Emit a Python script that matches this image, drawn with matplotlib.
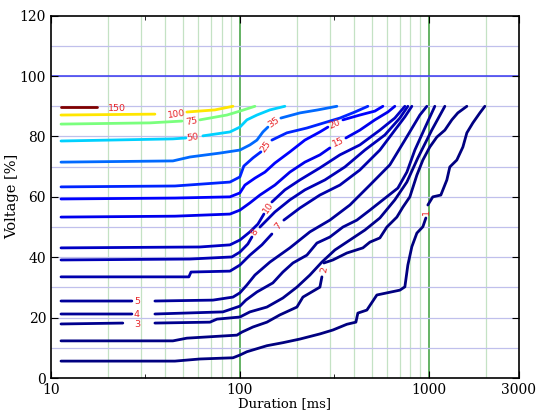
import numpy as np
import matplotlib
matplotlib.use("Agg")
import matplotlib.pyplot as plt
from matplotlib import colors

nan = np.nan

# contour levels (number of events)
levels = [1, 2, 3, 4, 5, 7, 8, 10, 15, 20, 25, 35, 50, 75, 100, 150]

# traced contour lines: duration [ms] and voltage [%]; nan = gap where the label sits
d_150 = [11.3, 17.5]
v_150 = [89.8, 89.8]
d_100 = [11.3, 35.5, nan, 52.4, 73.8, 91.9]
v_100 = [87.1, 87.4, nan, 88.1, 88.8, 90.0]
d_75 = [11.3, 33.4, 49.3, nan, 61.4, 85.4, 100, 120.1]
v_75 = [84.1, 84.5, 85.1, nan, 85.5, 87.1, 88.4, 90.0]
d_50 = [11.3, 44.2, 51.8, nan, 63.7, 88.6, 100, 108.9, 123.1, 144.2, 173]
v_50 = [78.5, 79.2, 79.5, nan, 80.2, 81.5, 83.1, 85.5, 87.1, 88.8, 90.0]
d_35 = [11.3, 44.2, 54.4, 78.4, 100, 113, 123.1, 132.4, 140.7, nan, 164.8, 207.8, 258.7, 326.1]
v_35 = [71.5, 71.9, 73.2, 74.5, 75.5, 77.2, 78.8, 81.5, 83.1, nan, 86.1, 87.8, 88.8, 90.0]
d_25 = [11.3, 45.3, 88.6, 100, 104.9, 117.3, 129.2, nan, 147.7, 177.3, 226.3, 265.2, 338.3, 406.1, 475.7]
v_25 = [63.3, 63.6, 64.9, 66.6, 70.2, 72.9, 74.9, nan, 78.8, 81.2, 82.8, 84.1, 86.1, 88.1, 90.0]
d_20 = [11.3, 45.3, 88.6, 100, 106.3, 120.1, 135.7, 153.2, 183.9, 220.8, 265.2, 292.3, nan,
        351, 431.6, 518.2, 571.4]
v_20 = [59.3, 59.6, 60.0, 61.3, 63.9, 66.2, 68.2, 71.2, 74.9, 78.8, 81.5, 83.1, nan,
        85.5, 87.1, 88.4, 90.0]
d_15 = [11.3, 45.3, 88.6, 100, 113, 127.7, 153.2, 183.9, 220.8, 265.2, 299.5, nan,
        364, 431.6, 518.2, 607, 661]
v_15 = [53.3, 53.6, 54.3, 55.6, 58.0, 60.6, 63.9, 68.2, 71.5, 73.9, 76.2, nan,
        79.5, 82.1, 85.5, 88.1, 90.0]
d_10 = [11.3, 61.4, 88.6, 100, 113, 124.6, 134, nan, 147.7, 173, 207.8, 265.2, 338.3,
        431.6, 550.8, 661, 747]
v_10 = [43.1, 43.4, 44.1, 45.7, 48.4, 51.0, 54.3, nan, 58.3, 62.3, 65.6, 69.6, 73.9,
        77.2, 82.1, 86.1, 90.0]
d_8 = [11.3, 54.4, 90.7, 100, 110.2, 115.8, nan, 127.7, 153.2, 183.9, 220.8, 281.8, 359.5,
       458.8, 585.4, 702.8, 774.6]
v_8 = [39.1, 39.4, 40.1, 41.7, 44.4, 46.7, nan, 50.0, 55.0, 59.0, 62.3, 65.6, 69.9,
       75.5, 80.5, 86.1, 90.0]
d_7 = [11.3, 53.7, 55.1, 88.6, 100, 113, 130.8, 147.7, nan, 170.9, 207.8, 265.2, 338.3,
       431.6, 550.8, 661, 747, 813.3]
v_7 = [33.5, 33.5, 35.1, 35.4, 37.4, 40.7, 44.1, 47.7, nan, 52.3, 56.3, 60.6, 63.9,
       68.9, 75.5, 82.1, 86.5, 90.0]
d_5 = [11.3, 26.8, nan, 35.5, 72, 91.9, 100, 108.9, 120.1, 144.2, 183.9, 234.7, 299.5,
       382.2, 487.6, 622.1, 747, 896.7, 976.6]
v_5 = [25.5, 25.5, nan, 25.5, 25.8, 26.8, 28.2, 30.8, 34.1, 38.4, 43.1, 48.4, 52.3,
       57.3, 63.9, 70.6, 78.8, 87.1, 90.0]
d_4 = [11.3, 26.8, nan, 35.5, 81.3, 90.7, 100, 107.6, 123.1, 149.5, 168.9, 190.9, 226.3,
       255.7, 299.5, 351, 416.2, 487.6, 571.4, 685.7, 765.4, 843.7, 953, 1076]
v_4 = [21.2, 21.2, nan, 21.2, 21.9, 22.9, 23.8, 25.8, 28.5, 31.5, 35.1, 38.1, 40.7,
       44.7, 46.7, 50.0, 52.3, 55.6, 59.0, 62.9, 68.2, 75.5, 82.8, 90.0]
d_3 = [11.3, 24.0, nan, 35.5, 69.4, 75.6, 100, 113, 139, 168.9, 200.4, 234.7, 271.7,
       318.3, 382.2, 458.8, 550.8, 661, 765.4, 875, 1037, 1216]
v_3 = [17.9, 18.2, nan, 18.2, 18.5, 19.5, 20.2, 21.9, 23.5, 26.5, 30.1, 34.1, 38.4,
       42.4, 45.7, 49.0, 53.0, 59.0, 64.9, 72.9, 82.1, 90.0]
d_2 = [11.3, 44.2, 52.4, 96.5, 102.4, 117.3, 139.0, 162.8, 200.4, 215.6, 265.2, 271.7, nan,
       278.3, 310.7, 368.4, 447.8, 487.6, 550.8, 599.9, 677.6, 729.1, 793.8, 864.6, 930.3,
       1012, 1103, 1216, 1324, 1424, 1590]
v_2 = [12.3, 12.3, 13.2, 14.2, 15.2, 16.9, 18.5, 20.9, 23.5, 26.8, 30.1, 33.5, nan,
       38.1, 39.1, 41.4, 43.1, 45.0, 46.4, 50.0, 53.3, 56.6, 60.0, 67.2, 72.2,
       76.5, 79.8, 82.1, 85.5, 87.8, 90.0]
d_1 = [11.3, 45.3, 61.4, 91.9, 100, 108.9, 139, 168.9, 207.8, 265.2, 310.7, 368.4, 411.2,
       421.2, 470.1, 531, 702.8, 747, 774.6, 813.3, 864.6, 930.3, 964.8, nan, 988.4, 1050,
       1158, 1246, 1292, 1407, 1515, 1590, 1711, 1863, 1980]
v_1 = [5.6, 5.6, 6.3, 6.7, 7.6, 8.7, 10.7, 11.7, 12.9, 14.6, 15.9, 17.8, 18.5,
       21.5, 22.5, 27.5, 29.1, 30.2, 37.4, 43.5, 48.0, 50.1, 53.0, nan, 57.3, 60.0,
       60.6, 65.6, 69.9, 72.2, 76.5, 81.2, 84.5, 87.8, 90.0]

curves = {1: (d_1, v_1), 2: (d_2, v_2), 3: (d_3, v_3), 4: (d_4, v_4), 5: (d_5, v_5),
          7: (d_7, v_7), 8: (d_8, v_8), 10: (d_10, v_10), 15: (d_15, v_15),
          20: (d_20, v_20), 25: (d_25, v_25), 35: (d_35, v_35), 50: (d_50, v_50),
          75: (d_75, v_75), 100: (d_100, v_100), 150: (d_150, v_150)}

# inline label positions: level -> (duration, voltage, rotation)
label_pos = {150: (22.3, 89.4, 0), 100: (45.9, 87.4, 8), 75: (55.7, 85.1, 10),
             50: (56.4, 79.5, 10), 35: (151.3, 84.5, 35), 25: (137.3, 76.5, 55),
             20: (318.3, 84.1, 25), 15: (330, 78.2, 25), 10: (140.7, 56.3, 55),
             8: (120.1, 48.4, 60), 7: (158.9, 50.3, 50), 5: (28.5, 25.5, 0),
             4: (28.5, 21.2, 0), 3: (28.5, 17.6, 0), 2: (278.3, 35.8, 80),
             1: (976.6, 55.0, 90)}

x_ticks = [10, 100, 1000, 3000]
x_tick_labels = ["10", "100", "1000", "3000"]
y_ticks = [0, 20, 40, 60, 80, 100, 120]

fig = plt.figure(figsize=(5.4, 4.12), dpi=100)
ax = fig.add_axes([0.0944, 0.0825, 0.8666, 0.8794])
ax.set_xscale("log")
ax.set_xlim(10, 3000)
ax.set_ylim(0, 120)

# grid
for g in [20, 30, 40, 50, 60, 70, 80, 90, 200, 300, 400, 500, 600, 700, 800, 900, 2000]:
    ax.axvline(g, color="#c4e2c4", lw=0.9, zorder=0)
for g in [100, 1000]:
    ax.axvline(g, color="#4aa64a", lw=1.2, zorder=0)
for g in range(10, 120, 10):
    ax.axhline(g, color="#c0c0ec", lw=0.9, zorder=0)
ax.axhline(100, color="#3a3af0", lw=1.1, zorder=0)

cmap = matplotlib.colormaps["jet"]
norm = colors.Normalize(vmin=min(levels), vmax=max(levels))
for lev in levels:
    d, v = curves[lev]
    ax.plot(d, v, color=cmap(norm(lev)), lw=2.0, solid_capstyle="round", zorder=2)
    lx, ly, rot = label_pos[lev]
    ax.text(lx, ly, str(lev), color="#e8262a", fontsize=6.8, ha="center", va="center",
            rotation=rot, rotation_mode="anchor", zorder=3)

ax.set_xticks(x_ticks)
ax.set_xticklabels(x_tick_labels)
ax.set_xticks([10 ** 1.5, 10 ** 2.5], minor=True)
ax.set_xticklabels([], minor=True)
ax.set_yticks(y_ticks)
ax.tick_params(axis="both", which="both", direction="in", top=True, right=True,
               labelsize=10)
ax.tick_params(axis="both", which="major", length=5)
ax.tick_params(axis="x", which="minor", length=3)
for lab in ax.get_xticklabels() + ax.get_yticklabels():
    lab.set_fontfamily("DejaVu Serif")

ax.set_xlabel("Duration [ms]", fontfamily="DejaVu Serif", fontsize=9.5, labelpad=0)
ax.set_ylabel("Voltage [%]", fontfamily="DejaVu Serif", fontsize=10.5)
ax.yaxis.set_label_coords(-0.068, 0.5)
for s in ax.spines.values():
    s.set_linewidth(1.2)

fig.savefig("out.png", dpi=100)
